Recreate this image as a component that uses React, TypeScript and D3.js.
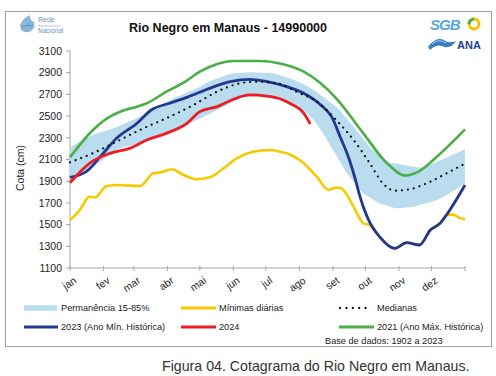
import React from "react";
import * as d3 from "d3";

const months = ["jan", "fev", "mar", "abr", "mai", "jun", "jul", "ago", "set", "out", "nov", "dez"];
const monthStarts = [0, 31, 59, 90, 120, 151, 181, 212, 243, 273, 304, 334, 365];
const yTicks = [1100, 1300, 1500, 1700, 1900, 2100, 2300, 2500, 2700, 2900, 3100];

// [day of year, cota cm]
const bandUpper: [number, number][] = [
  [0, 2210], [21, 2326], [40, 2388], [58, 2464], [74, 2541], [92, 2648], [114, 2741], [132, 2833],
  [151, 2895], [169, 2904], [188, 2895], [203, 2848], [225, 2741], [246, 2587], [262, 2402], [277, 2218],
  [293, 2080], [308, 2050], [323, 2025], [339, 2080], [365, 2194],
];
const bandLower: [number, number][] = [
  [0, 1935], [21, 2034], [43, 2188], [68, 2264], [92, 2341], [114, 2449], [136, 2556], [157, 2664],
  [176, 2695], [185, 2679], [194, 2664], [203, 2618], [225, 2464], [243, 2188], [256, 1973], [271, 1788],
  [286, 1696], [302, 1650], [317, 1665], [339, 1727], [365, 1881],
];
const medianas: [number, number][] = [
  [0, 2074], [21, 2157], [37, 2234], [68, 2388], [89, 2480], [114, 2602], [136, 2725], [157, 2802],
  [172, 2817], [185, 2810], [195, 2795], [209, 2725], [228, 2633], [246, 2464], [262, 2280], [277, 2065],
  [289, 1881], [300, 1813], [314, 1826], [333, 1896], [351, 1988], [365, 2062],
];
const minimas: [number, number][] = [
  [0, 1542], [9, 1634], [18, 1757], [23, 1751], [34, 1856], [45, 1865], [55, 1859], [65, 1856],
  [77, 1973], [83, 1979], [94, 2010], [105, 1957], [117, 1918], [129, 1936], [142, 2019], [154, 2111],
  [169, 2172], [185, 2188], [194, 2172], [200, 2157], [216, 2065], [228, 1942], [239, 1819], [245, 1840],
  [249, 1840], [252, 1825], [259, 1720], [265, 1607], [271, 1512], [276, 1500], [286, 1389], [300, 1281],
  [311, 1333], [323, 1312], [333, 1450], [342, 1512], [348, 1590], [354, 1592], [360, 1562], [365, 1549],
];
const ano2023: [number, number][] = [
  [0, 1936], [15, 1988], [28, 2126], [43, 2296], [62, 2434], [75, 2556], [92, 2618], [108, 2673],
  [129, 2756], [148, 2817], [166, 2839], [182, 2817], [194, 2790], [216, 2710], [232, 2600], [242, 2490],
  [250, 2300], [256, 2157], [263, 1941], [268, 1757], [271, 1665], [276, 1542], [286, 1389], [300, 1281],
  [311, 1333], [323, 1312], [333, 1450], [342, 1512], [351, 1635], [365, 1865],
];
const ano2024: [number, number][] = [
  [0, 1886], [18, 2065], [37, 2157], [55, 2203], [71, 2280], [89, 2341], [108, 2434], [120, 2541],
  [136, 2587], [151, 2655], [166, 2695], [182, 2685], [194, 2660], [203, 2618], [216, 2526], [222, 2427],
];
const ano2021: [number, number][] = [
  [0, 2120], [21, 2370], [32, 2464], [48, 2547], [62, 2587], [71, 2618], [89, 2725], [105, 2808],
  [120, 2909], [136, 2980], [151, 3008], [176, 3008], [194, 2985], [216, 2909], [246, 2664], [271, 2341],
  [293, 2065], [310, 1952], [322, 1988], [339, 2126], [365, 2378],
];

const FONT = "'Liberation Sans', Arial, Helvetica, sans-serif";
const C_BAND = "#b9dcef";
const C_YEL = "#f6c900";
const C_BLUE = "#22388f";
const C_RED = "#ec1c24";
const C_GREEN = "#4cae47";

export default function App() {
  const W = 496, H = 376;
  const x = d3.scaleLinear().domain([0, 365]).range([70, 465]);
  const y = d3.scaleLinear().domain([1100, 3100]).range([268, 51]);

  const line = d3
    .line<[number, number]>()
    .x((d) => x(d[0]))
    .y((d) => y(d[1]))
    .curve(d3.curveMonotoneX);

  const lowerInterp = d3
    .scaleLinear()
    .domain(bandLower.map((d) => d[0]))
    .range(bandLower.map((d) => d[1]));
  const upperInterp = d3
    .scaleLinear()
    .domain(bandUpper.map((d) => d[0]))
    .range(bandUpper.map((d) => d[1]));
  const bandDays = Array.from(
    new Set([...bandUpper.map((d) => d[0]), ...bandLower.map((d) => d[0])])
  ).sort((a, b) => a - b);
  const area = d3
    .area<number>()
    .x((d) => x(d))
    .y0((d) => y(lowerInterp(d)))
    .y1((d) => y(upperInterp(d)))
    .curve(d3.curveMonotoneX);

  const legendY1 = 308;
  const legendY2 = 327;

  return (
    <svg width={W} height={H} style={{ position: "absolute", left: 0, top: 0 }} fontFamily={FONT}>
      <rect x={0} y={0} width={W} height={H} fill="#fff" />
      <rect x={5.5} y={11.5} width={486} height={335} fill="#fff" stroke="#a0a0a0" strokeWidth={1} />

      {/* left logo */}
      <g>
        <path d="M20 25 Q24 17 30 15 Q29 20 34 22 Q36 27 31 31 Q26 34 21 30 Z" fill="#8ab6dc" />
        <path d="M22 27 Q27 24 33 26" stroke="#5a8fc4" strokeWidth={1} fill="none" />
        <text x={38} y={22} fontSize={7} fill="#6b93bf">Rede</text>
        <text x={38} y={26.5} fontSize={2.6} fill="#9bb7d4">Hidrometeorológica</text>
        <text x={38} y={33} fontSize={6.5} fill="#6b93bf">Nacional</text>
      </g>

      {/* right logos */}
      <g>
        <text x={430} y={30} fontSize={15} fontWeight="bold" fill="#5aa6dc" fontStyle="italic" letterSpacing={-1}>SGB</text>
        <circle cx={474} cy={24} r={5} fill="none" stroke="#f4c400" strokeWidth={3} />
        <path d="M469 24 A5 5 0 0 1 474 19" stroke="#4cae47" strokeWidth={3} fill="none" />
        <path d="M428 47 Q436 36 444 40 Q448 44 456 41 Q450 50 442 46 Q436 44 430 50 Z" fill="#3a7cc2" />
        <path d="M432 44 Q438 38 446 43" stroke="#a9cdea" strokeWidth={1} fill="none" />
        <text x={457} y={49} fontSize={11} fontWeight="bold" fill="#1f3f8a">ANA</text>
      </g>

      <text x={228} y={32} textAnchor="middle" fontSize={12.5} fontWeight="bold" fill="#111">
        Rio Negro em Manaus - 14990000
      </text>

      {/* axes */}
      <line x1={70} y1={51} x2={70} y2={268} stroke="#a6a6a6" />
      <line x1={70} y1={268} x2={465} y2={268} stroke="#a6a6a6" />
      {yTicks.map((t) => (
        <g key={t}>
          <line x1={66} x2={70} y1={y(t)} y2={y(t)} stroke="#a6a6a6" />
          <text x={62} y={y(t) + 3.7} textAnchor="end" fontSize={10.5} fill="#222">
            {t}
          </text>
        </g>
      ))}
      {monthStarts.map((d) => (
        <line key={d} x1={x(d)} x2={x(d)} y1={266} y2={271} stroke="#a6a6a6" />
      ))}
      {months.map((m, i) => (
        <text
          key={m}
          transform={`translate(${x(monthStarts[i]) + 3},${276}) rotate(-35)`}
          textAnchor="end"
          fontSize={10.5}
          fill="#222"
          dy="0.7em"
        >
          {m}
        </text>
      ))}
      <text transform="translate(24,168) rotate(-90)" textAnchor="middle" fontSize={10.5} fill="#222">
        Cota (cm)
      </text>

      {/* series */}
      <path d={area(bandDays) || ""} fill={C_BAND} />
      <path d={line(minimas) || ""} fill="none" stroke={C_YEL} strokeWidth={2.6} />
      <path d={line(ano2021) || ""} fill="none" stroke={C_GREEN} strokeWidth={2.6} />
      <path d={line(ano2023) || ""} fill="none" stroke={C_BLUE} strokeWidth={2.8} />
      <path d={line(ano2024) || ""} fill="none" stroke={C_RED} strokeWidth={2.8} />
      <path
        d={line(medianas) || ""}
        fill="none"
        stroke="#111"
        strokeWidth={2.3}
        strokeDasharray="0 6"
        strokeLinecap="round"
      />

      {/* legend */}
      <g fontSize={9.2} fill="#222">
        <rect x={24} y={legendY1 - 2.7} width={33} height={5.5} fill={C_BAND} />
        <text x={61} y={legendY1 + 3.3}>Permanência 15-85%</text>
        <line x1={181} x2={216} y1={legendY1} y2={legendY1} stroke={C_YEL} strokeWidth={3} />
        <text x={219} y={legendY1 + 3.3}>Mínimas diárias</text>
        <line x1={340} x2={372} y1={legendY1} y2={legendY1} stroke="#111" strokeWidth={2.3} strokeDasharray="0 6.4" strokeLinecap="round" />
        <text x={377} y={legendY1 + 3.3}>Medianas</text>

        <line x1={24} x2={58} y1={legendY2} y2={legendY2} stroke={C_BLUE} strokeWidth={3} />
        <text x={61} y={legendY2 + 3.3}>2023 (Ano Mín. Histórica)</text>
        <line x1={181} x2={216} y1={legendY2} y2={legendY2} stroke={C_RED} strokeWidth={3} />
        <text x={219} y={legendY2 + 3.3}>2024</text>
        <line x1={339} x2={374} y1={legendY2} y2={legendY2} stroke={C_GREEN} strokeWidth={3} />
        <text x={377} y={legendY2 + 3.3}>2021 (Ano Máx. Histórica)</text>
        <text x={325} y={344}>Base de dados: 1902 a 2023</text>
      </g>

      <text x={162} y={371} fontSize={14.2} fill="#333">
        Figura 04. Cotagrama do Rio Negro em Manaus.
      </text>
    </svg>
  );
}
